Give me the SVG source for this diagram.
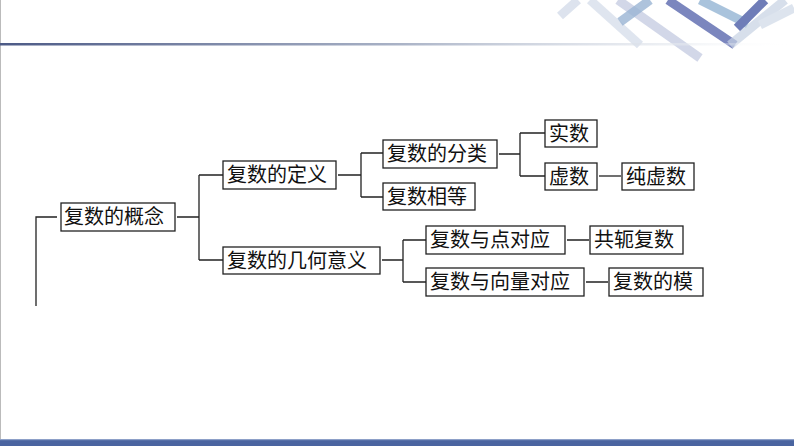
<svg xmlns="http://www.w3.org/2000/svg" width="794" height="446" viewBox="0 0 794 446">
<defs>
<linearGradient id="tl" x1="0" x2="1" y1="0" y2="0"><stop offset="0" stop-color="#4c5a86"/><stop offset="0.5" stop-color="#a9b2c6"/><stop offset="0.85" stop-color="#e4e8ee" stop-opacity="0.6"/><stop offset="1" stop-color="#fff" stop-opacity="0"/></linearGradient>
<style>
.b{fill:#fff;stroke:#222;stroke-width:1.3}
.t{font-family:"Noto Sans CJK SC",sans-serif;font-size:20px;fill:#111}
.c{fill:none;stroke:#222;stroke-width:1.3}
</style>
</defs>
<rect width="794" height="446" fill="#fff"/>
<line x1="0.5" y1="0" x2="0.5" y2="440" stroke="#bbb"/>
<g id="deco" stroke-width="9" stroke-linecap="butt" fill="none">
<line x1="560" y1="16" x2="578" y2="0" stroke="#dde3ee"/>
<line x1="590" y1="0" x2="640" y2="45" stroke="#c9d3e4" stroke-opacity="0.6"/>
<line x1="618" y1="0" x2="700" y2="58" stroke="#c7cde2" stroke-opacity="0.8"/>
<line x1="668" y1="0" x2="735" y2="45" stroke="#7b86be"/>
<line x1="700" y1="0" x2="748" y2="24" stroke="#a9c3dc"/>
<line x1="620" y1="22" x2="650" y2="0" stroke="#9ab4d3" stroke-opacity="0.8"/>
<line x1="737" y1="28" x2="765" y2="0" stroke="#6f7db8"/>
<line x1="730" y1="45" x2="785" y2="0" stroke="#c6d2e3" stroke-opacity="0.7"/>
<line x1="760" y1="25" x2="794" y2="8" stroke="#dde4ee"/>
</g>
<rect x="0" y="43" width="794" height="2.5" fill="url(#tl)"/>
<rect x="0" y="439" width="794" height="7" fill="#4a64a0"/>
<rect x="0" y="439" width="794" height="1.2" fill="#8da0c8"/>
<g id="connectors">
<path class="c" d="M36,306 V217 H57"/>
<path class="c" d="M177,217 H199 M199,175 V260 M199,175 H223 M199,260 H223"/>
<path class="c" d="M338,175 H361 M361,153 V197 M361,153 H383 M361,197 H383"/>
<path class="c" d="M499,154 H520 M520,133 V176 M520,133 H545 M520,176 H545"/>
<path class="c" d="M599,176 H621"/>
<path class="c" d="M382,260 H403 M403,240 V282 M403,240 H426 M403,282 H426"/>
<path class="c" d="M567,240 H589 M586,282 H608"/>
</g>
<g id="n1"><rect class="b" x="61" y="203" width="114" height="28"/><text class="t" x="64" y="224">复数的概念</text></g>
<g id="n2"><rect class="b" x="223" y="161" width="113" height="28"/><text class="t" x="227" y="182">复数的定义</text></g>
<g id="n3"><rect class="b" x="223" y="247" width="157" height="27"/><text class="t" x="227" y="268">复数的几何意义</text></g>
<g id="n4"><rect class="b" x="383" y="140" width="114" height="28"/><text class="t" x="387" y="161">复数的分类</text></g>
<g id="n5"><rect class="b" x="383" y="183" width="92" height="27"/><text class="t" x="387" y="204">复数相等</text></g>
<g id="n6"><rect class="b" x="545" y="120" width="52" height="27"/><text class="t" x="549" y="141">实数</text></g>
<g id="n7"><rect class="b" x="545" y="163" width="52" height="27"/><text class="t" x="549" y="184">虚数</text></g>
<g id="n8"><rect class="b" x="622" y="163" width="72" height="27"/><text class="t" x="626" y="184">纯虚数</text></g>
<g id="n9"><rect class="b" x="426" y="226" width="139" height="28"/><text class="t" x="430" y="247">复数与点对应</text></g>
<g id="n10"><rect class="b" x="590" y="226" width="93" height="28"/><text class="t" x="594" y="247">共轭复数</text></g>
<g id="n11"><rect class="b" x="426" y="268" width="158" height="28"/><text class="t" x="430" y="289">复数与向量对应</text></g>
<g id="n12"><rect class="b" x="609" y="268" width="94" height="28"/><text class="t" x="613" y="289">复数的模</text></g>
</svg>
